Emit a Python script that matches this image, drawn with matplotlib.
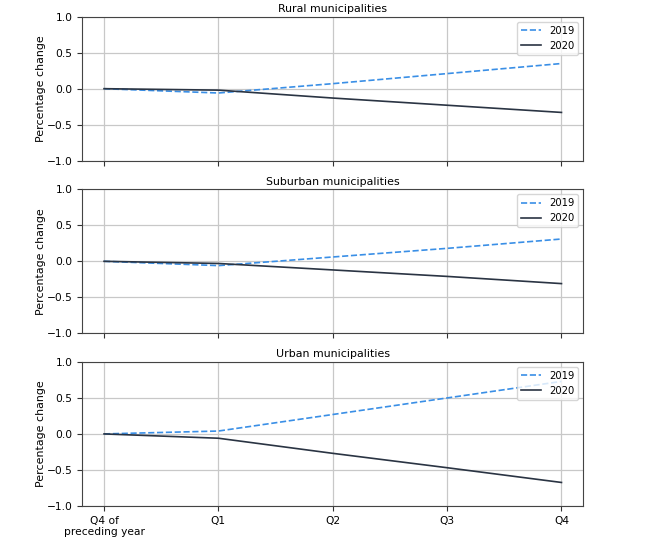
import matplotlib.pyplot as plt

quarters = ["Q4 of\npreceding year", "Q1", "Q2", "Q3", "Q4"]
panel_titles = ["Rural municipalities", "Suburban municipalities", "Urban municipalities"]

rural_2019 = [0.0, -0.06, 0.07, 0.21, 0.35]
rural_2020 = [0.0, -0.02, -0.13, -0.23, -0.33]
suburban_2019 = [0.0, -0.06, 0.06, 0.18, 0.31]
suburban_2020 = [0.0, -0.03, -0.12, -0.21, -0.31]
urban_2019 = [0.0, 0.04, 0.27, 0.50, 0.73]
urban_2020 = [0.0, -0.06, -0.27, -0.47, -0.675]

series = [(rural_2019, rural_2020), (suburban_2019, suburban_2020), (urban_2019, urban_2020)]

fig, axes = plt.subplots(3, 1, figsize=(6.48, 5.41), dpi=100, sharex=True)
fig.subplots_adjust(left=0.127, right=0.9, top=0.969, bottom=0.065, hspace=0.2)

x = range(len(quarters))
for ax, title, (s19, s20) in zip(axes, panel_titles, series):
    ax.plot(x, s19, linestyle="--", color="#3a8fe6", linewidth=1.2, label="2019")
    ax.plot(x, s20, color="#2a3443", linewidth=1.2, label="2020")
    ax.set_title(title, fontsize=7.9, pad=3.5)
    ax.set_ylabel("Percentage change", fontsize=7.9, labelpad=0.5)
    ax.set_ylim(-1, 1)
    ax.set_yticks([-1.0, -0.5, 0.0, 0.5, 1.0])
    ax.set_xlim(-0.19, 4.19)
    ax.grid(True, color="#c8c8c8", linewidth=0.9)
    ax.set_axisbelow(True)
    ax.tick_params(labelsize=7.7, color="#333333")
    for sp in ax.spines.values():
        sp.set_color("#444444")
    ax.legend(loc="upper right", fontsize=7.2, handlelength=2.0)

axes[-1].set_xticks(list(x))
axes[-1].set_xticklabels(quarters, fontsize=7.7)

fig.savefig("out.png", dpi=100)
